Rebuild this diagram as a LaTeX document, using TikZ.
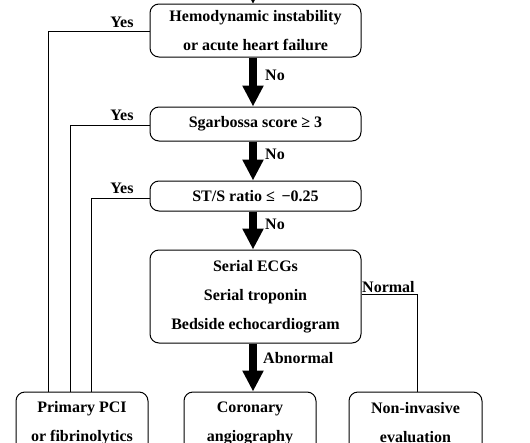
\documentclass[tikz,border=0pt]{standalone}
\usepackage{fontspec}
\setmainfont{Liberation Serif}
\usetikzlibrary{arrows.meta}
\begin{document}
\begin{tikzpicture}[x=1pt,y=-1pt,
  box/.style={draw,line width=1pt,rounded corners=9pt,align=center,inner sep=0pt,
    font=\fontsize{16}{29}\selectfont\bfseries},
  lbl/.style={font=\fontsize{16}{18}\selectfont\bfseries,inner sep=0pt},
  thin/.style={line width=1pt},
  big/.style={line width=8pt,-{Triangle[length=21pt,width=20pt]}}]
\useasboundingbox (0,0) rectangle (530,442);
\clip (0,0) rectangle (530,442);
\node[box,minimum width=211pt,minimum height=53pt] (b1) at (255.5,30.5) {Hemodynamic instability\\or acute heart failure};
\node[box,minimum width=211pt,minimum height=34pt] (b2) at (255.5,124) {Sgarbossa score ≥ 3};
\node[box,minimum width=211pt,minimum height=30pt] (b3) at (255.5,196) {ST/S ratio ≤ \,−0.25};
\node[box,minimum width=211pt,minimum height=93pt] (b4) at (255.5,296.5) {Serial ECGs\\Serial troponin\\Bedside echocardiogram};
\node[box,minimum width=132pt,minimum height=62pt] (p) at (82,423) {Primary PCI\\or fibrinolytics};
\node[box,minimum width=132pt,minimum height=62pt] (c) at (250,423) {Coronary\\angiography};
\node[box,minimum width=133pt,minimum height=62pt] (n) at (415.5,423) {Non-invasive\\evaluation};
\coordinate (top) at (253,-6);
\draw[thin,-{Triangle[length=5pt,width=5pt]}] (top) -- (b1.north -| top);
\draw[big] (b1.south -| 253,0) -- (b2.north -| 253,0);
\draw[big] (b2.south -| 253,0) -- (b3.north -| 253,0);
\draw[big] (b3.south -| 253,0) -- (b4.north -| 253,0);
\draw[big] (b4.south -| 253,0) -- (c.north -| 253,0);
\node[lbl,anchor=west] (no1) at (265,75) {No};
\node[lbl,anchor=west] (no2) at (265,154) {No};
\node[lbl,anchor=west] (no3) at (265,224) {No};
\node[lbl,anchor=west] (ab) at (263,358) {Abnormal};
\draw[thin] (b1.west |- 0,31) -| (p.north -| 48,0);
\draw[thin] (b2.west |- 0,125) -| (p.north -| 70,0);
\draw[thin] (b3.west |- 0,198) -| (p.north -| 91,0);
\node[lbl] (y1) at (122,22) {Yes};
\node[lbl] (y2) at (122,115) {Yes};
\node[lbl] (y3) at (122,188) {Yes};
\draw[thin] (b4.east |- 0,294) -| (n.north -| 417,0);
\node[lbl,anchor=south west] (nm) at (362,293) {Normal};
\end{tikzpicture}
\end{document}
